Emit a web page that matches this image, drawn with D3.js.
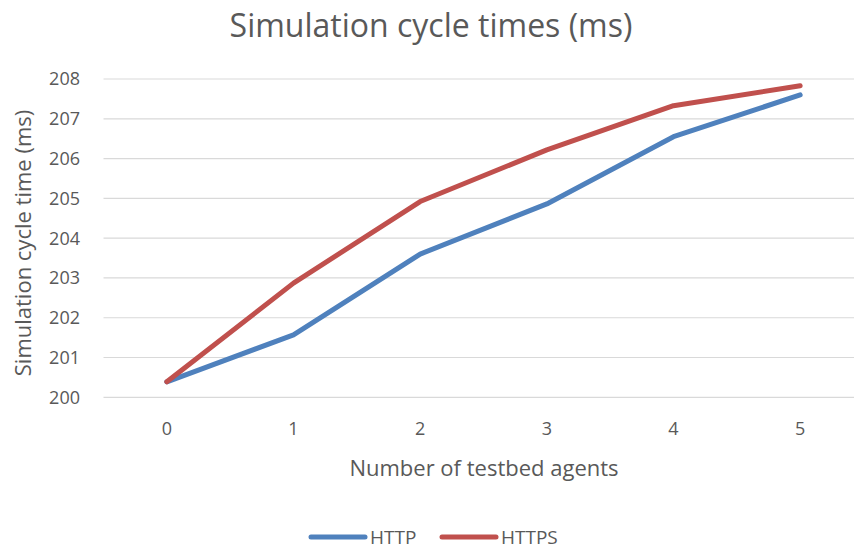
<!DOCTYPE html>
<html><head><meta charset="utf-8">
<script src="https://cdn.jsdelivr.net/npm/d3@7"></script>
<style>body{margin:0;background:#fff}text{font-family:"Open Sans",sans-serif;fill:#595959}</style>
</head><body><svg id="c" width="854" height="549"></svg>
<script>
const categories = [0, 1, 2, 3, 4, 5];
const httpValues = [200.39, 201.57, 203.6, 204.86, 206.55, 207.6];
const httpsValues = [200.39, 202.87, 204.92, 206.22, 207.33, 207.83];
const yTicks = [200, 201, 202, 203, 204, 205, 206, 207, 208];
const seriesNames = ["HTTP", "HTTPS"];
const colors = ["#4F81BD", "#C0504D"];

const svg = d3.select("#c");
const pLeft = 103.5, pRight = 863.5, pTop = 79, pBottom = 397.3;
const x = d3.scaleBand().domain(categories).range([pLeft, pRight]);
const y = d3.scaleLinear().domain([200, 208]).range([pBottom, pTop]);

// gridlines
svg.append("g").selectAll("line").data(yTicks).join("line")
  .attr("x1", pLeft).attr("x2", pRight)
  .attr("y1", d => y(d)).attr("y2", d => y(d))
  .attr("stroke", "#D9D9D9").attr("stroke-width", 1.2);

// y labels
svg.append("g").selectAll("text").data(yTicks).join("text")
  .attr("x", 80).attr("y", d => y(d)).attr("dy", "0.36em")
  .attr("text-anchor", "end").attr("font-size", 18).text(d => d);

// x labels
svg.append("g").selectAll("text").data(categories).join("text")
  .attr("x", d => x(d) + x.bandwidth() / 2).attr("y", 435)
  .attr("text-anchor", "middle").attr("font-size", 18).text(d => d);

// lines
const line = d3.line().x((d, i) => x(categories[i]) + x.bandwidth() / 2).y(d => y(d));
[httpValues, httpsValues].forEach((vals, i) => {
  svg.append("path").datum(vals).attr("d", line)
    .attr("fill", "none").attr("stroke", colors[i]).attr("stroke-width", 5)
    .attr("stroke-linecap", "round").attr("stroke-linejoin", "round");
});

// title
svg.append("text").attr("x", 431).attr("y", 37).attr("text-anchor", "middle")
  .attr("font-size", 32).text("Simulation cycle times (ms)");

// axis titles
svg.append("text").attr("x", 484).attr("y", 476).attr("text-anchor", "middle")
  .attr("font-size", 22).text("Number of testbed agents");
svg.append("text").attr("transform", "translate(31,243) rotate(-90)")
  .attr("text-anchor", "middle").attr("font-size", 22).text("Simulation cycle time (ms)");

// legend
const legX = [311, 442];
seriesNames.forEach((n, i) => {
  svg.append("line").attr("x1", legX[i]).attr("x2", legX[i] + 54)
    .attr("y1", 537).attr("y2", 537).attr("stroke", colors[i])
    .attr("stroke-width", 5).attr("stroke-linecap", "round");
  svg.append("text").attr("x", legX[i] + 59).attr("y", 537).attr("dy", "0.36em")
    .attr("font-size", 19).text(n);
});
</script></body></html>
